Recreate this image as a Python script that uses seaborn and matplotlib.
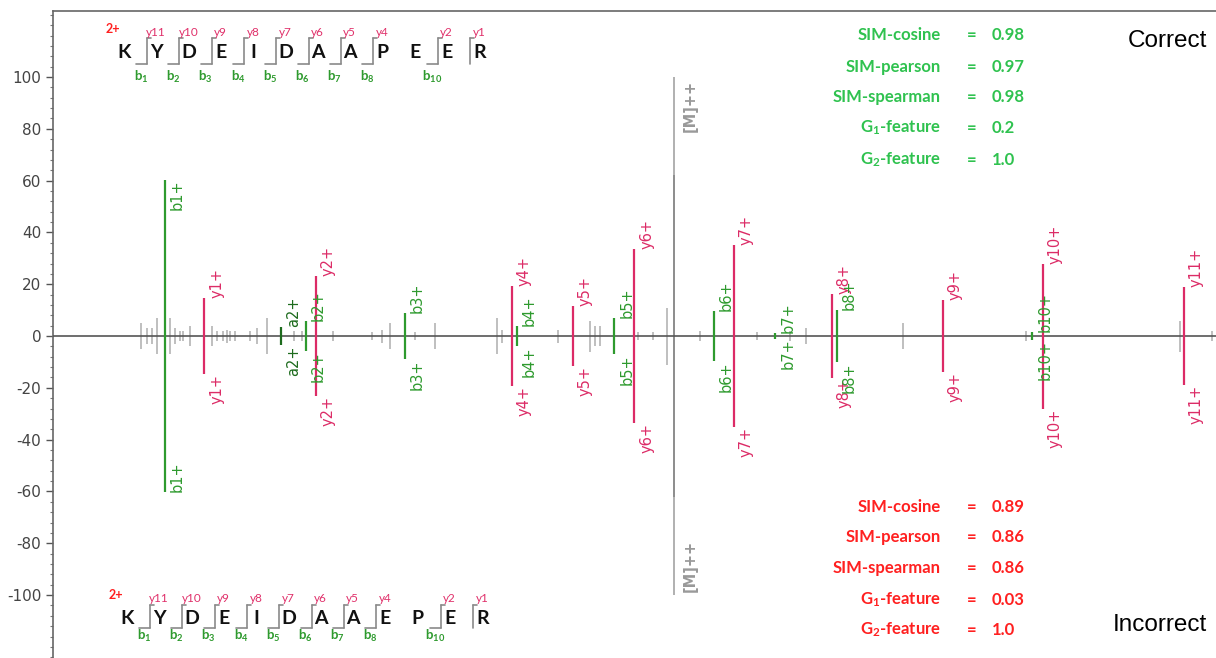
import matplotlib
matplotlib.use('Agg')
import matplotlib.pyplot as plt
from matplotlib.ticker import MultipleLocator, AutoMinorLocator
import numpy as np
import pandas as pd
import seaborn as sns

# 주석이 달린 단편 이온 (m/z, 상대강도) - 위/아래 거울상
ion_names = ['b1+', 'y1+', 'a2+', 'b2+', 'y2+', 'b3+', 'y4+', 'b4+', 'y5+', 'b5+',
             'y6+', 'b6+', 'y7+', 'b7+', 'y8+', 'b8+', 'y9+', 'b10+', 'y10+', 'y11+']
ion_mz = [129.10, 175.12, 264.17, 292.17, 304.16, 407.19, 530.26, 536.24, 601.30, 649.32,
          672.33, 764.35, 787.36, 835.38, 900.44, 906.42, 1029.49, 1132.52, 1144.51, 1307.58]
ion_int = [60.4, 14.8, 3.5, 5.7, 23.2, 9.0, 19.4, 4.0, 11.7, 6.9,
           33.5, 9.6, 35.2, 1.0, 16.1, 10.0, 14.0, 1.5, 28.0, 18.8]

# 주석 없는 피크 (회색)
noise_mz = [101.3, 108.3, 114.1, 119.8, 134.9, 140.7, 146.4, 149.9, 158.0, 183.5,
            189.3, 196.2, 200.8, 204.3, 210.1, 227.4, 235.5, 247.1, 278.3, 287.5,
            323.4, 368.5, 380.0, 389.3, 418.2, 441.3, 513.0, 518.8, 583.6, 620.6,
            626.4, 632.2, 676.1, 693.5, 709.7, 747.8, 813.7, 851.9, 870.4, 982.6,
            1124.8, 1302.9, 1339.9]
noise_int = [5, 3, 3, 7, 7, 3, 2, 2, 4, 4,
             2, 2, 2.5, 2, 2, 2, 3, 7, 2, 2,
             2, 1.5, 2.5, 5, 1.5, 5, 7, 2.5, 2.5, 6,
             4, 4, 1.5, 1.5, 11, 2, 1.5, 2, 3, 5,
             2, 6, 2]

prec_mz = 718.34
prec_int = 62
prec_mark = 100

seq_correct = 'KYDEIDAAPEER'
seq_incorrect = 'KYDEIDAAEPER'
y_gaps = [1, 2, 3, 4, 5, 6, 7, 8, 10, 11]
b_gaps = [1, 2, 3, 4, 5, 6, 7, 8, 10]

stat_names = ['SIM-cosine', 'SIM-pearson', 'SIM-spearman', 'G$_1$-feature', 'G$_2$-feature']
stat_correct = ['0.98', '0.97', '0.98', '0.2', '1.0']
stat_incorrect = ['0.89', '0.86', '0.86', '0.03', '1.0']

sns.set_theme(style='ticks')
plt.rcParams['font.family'] = ['DejaVu Sans']
plt.rcParams['axes.unicode_minus'] = False
plt.rcParams['mathtext.fontset'] = 'custom'
plt.rcParams['mathtext.bf'] = 'Lato:bold'
plt.rcParams['mathtext.rm'] = 'Lato:bold'
plt.rcParams['mathtext.default'] = 'bf'

c_b = '#2e9a2e'
c_a = '#1d6b1d'
c_y = '#dc2b66'
c_grey = '#b4b4b4'

df = pd.DataFrame({'ion': ion_names, 'mz': ion_mz, 'inten': ion_int})
df['color'] = [c_b if n[0] == 'b' else (c_a if n[0] == 'a' else c_y) for n in df['ion']]

W, H = 1216, 658
fig = plt.figure(figsize=(W / 100, H / 100), dpi=100)
ax = fig.add_axes([53 / W, 0, 1 - 53 / W, 1 - 11 / H])

ax.set_xlim(0, 1345)
ax.set_ylim(-124.3, 125.5)

# 회색 피크
for s in (1, -1):
    ax.vlines(noise_mz, 0, np.array(noise_int) * s, color=c_grey, lw=1.2)
ax.vlines(prec_mz, -prec_mark, prec_mark, color='#aaaaaa', lw=1.3)
ax.vlines(prec_mz, -prec_int, prec_int, color='#8c8c8c', lw=1.3)
ax.axhline(0, color='#555555', lw=1.2, zorder=3)

# 주석 피크
for s in (1, -1):
    ax.vlines(df['mz'], 0, df['inten'] * s, colors=df['color'], lw=1.6, zorder=4)
    for _, r in df.iterrows():
        h = r['inten'] * s
        if r['inten'] > 50:
            va = 'top' if s > 0 else 'bottom'
        else:
            va = 'bottom' if s > 0 else 'top'
        ax.annotate(r['ion'], (r['mz'], h), xytext=(3.5, 0), textcoords='offset points',
                    rotation=90, ha='left', va=va, color=r['color'], fontsize=10.5, zorder=5)

for s in (1, -1):
    ax.annotate('[M]++', (prec_mz, 99 * s), xytext=(6, 0), textcoords='offset points',
                rotation=90, ha='left', va='top' if s > 0 else 'bottom', color='#999999',
                fontsize=10.5, weight='bold')

ax.set_yticks(np.arange(-100, 101, 20))
ax.yaxis.set_minor_locator(AutoMinorLocator(5))
ax.set_xticks([])
ax.tick_params(axis='y', which='major', length=5, width=1, color='#555555', labelsize=11, labelcolor='#444444')
ax.tick_params(axis='y', which='minor', length=2.5, width=0.8, color='#777777')
sns.despine(ax=ax, top=False, right=True, bottom=True)
for sp in ('left', 'top'):
    ax.spines[sp].set_color('#666666')
    ax.spines[sp].set_linewidth(1.2)

# 펩타이드 서열 주석 (픽셀 좌표용 오버레이)
ov = fig.add_axes([0, 0, 1, 1])
ov.set_xlim(0, W)
ov.set_ylim(H, 0)
ov.axis('off')
ov.patch.set_alpha(0)

fam = ['Lato', 'DejaVu Sans']


def draw_peptide(seq, x0, y_let, y_top, y_bot, y_ylab, y_blab):
    step = 32.3
    n = len(seq)
    ov.text(x0 - 11, y_ylab - 3, '2+', color='#ff2020', fontsize=9, weight='bold',
            ha='center', va='center', family=fam)
    for i, aa in enumerate(seq):
        ov.text(x0 + i * step, y_let, aa, ha='center', va='center', fontsize=14,
                weight='bold', color='#111111', family=fam)
    for g in range(1, n):
        xv = x0 + (g - 1) * step + 23
        if g in y_gaps:
            ov.plot([xv, xv], [y_top, y_bot], color='#8a8a8a', lw=1.2)
            ov.plot([xv, xv + 4], [y_top, y_top], color='#8a8a8a', lw=1.2)
            ov.text(xv + 9, y_ylab, 'y' + str(n - g), color='#e0306a', fontsize=8.5,
                    ha='center', va='center', family=fam)
        if g in b_gaps:
            ov.plot([xv - 11, xv], [y_bot, y_bot], color='#8a8a8a', lw=1.2)
            ov.text(xv - 6, y_blab, r'$\mathbf{b_{%d}}$' % g, color='#2e9a2e',
                    fontsize=9.5, ha='center', va='center')


draw_peptide(seq_correct, 124, 53, 38, 64, 32, 77)
draw_peptide(seq_incorrect, 127, 618, 605, 628, 598, 636)

# 유사도 지표
row_top = [35, 67, 97, 128, 160]
row_bot = [507, 537, 568, 600, 630]
for rows, vals, col in ((row_top, stat_correct, '#2fc24f'), (row_bot, stat_incorrect, '#ff2020')):
    for yy, name, v in zip(rows, stat_names, vals):
        ov.text(941, yy, name, ha='right', va='center', fontsize=12, weight='bold', color=col, family=fam)
        ov.text(972, yy, '=', ha='center', va='center', fontsize=12, weight='bold', color=col, family=fam)
        ov.text(992, yy, v, ha='left', va='center', fontsize=12, weight='bold', color=col, family=fam)

ov.text(1207, 41, 'Correct', ha='right', va='center', fontsize=17.5, color='black', family=['Liberation Sans'])
ov.text(1207, 625, 'Incorrect', ha='right', va='center', fontsize=17.5, color='black', family=['Liberation Sans'])

fig.savefig('out.png', dpi=100)
